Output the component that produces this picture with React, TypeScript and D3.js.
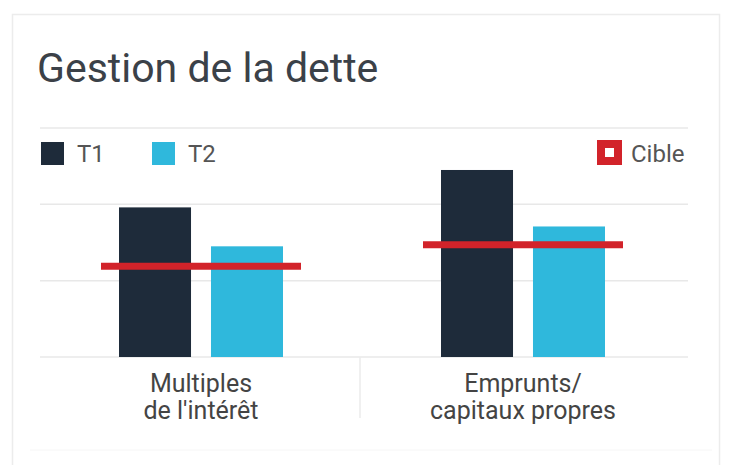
import * as d3 from 'd3'
import React from 'react'

// chart data
const categories = ['Multiples', 'Emprunts']
const categoryLines = [['Multiples', "de l'intérêt"], ['Emprunts/', 'capitaux propres']]
const series = ['T1', 'T2']
const t1Values = [1.96, 2.45]
const t2Values = [1.45, 1.71]
const targetValues = [1.19, 1.47]
const gridTicks = [0, 1, 2, 3]

const colors = d3.scaleOrdinal<string, string>().domain(series).range(['#1e2b3a', '#2fb8dc'])
const RED = '#d2232a'
const FONT = 'Roboto, "Noto Sans", sans-serif'

export default function App() {
    React.useEffect(() => {
        document.body.style.margin = '0'
    }, [])

    const width = 730, height = 465
    const y = d3.scaleLinear().domain([0, 3]).range([357, 128])
    const x0 = d3.scaleBand().domain(categories).range([40, 684])
    const x1 = d3.scaleBand().domain(series).range([-82, 82]).paddingInner(0.217)
    const valuesBySeries: Record<string, number[]> = { T1: t1Values, T2: t2Values }

    return (
        <svg width={width} height={height} style={{ display: 'block', background: '#fff' }}>
            {/* card */}
            <rect x={12.5} y={14.5} width={707} height={470} fill="#fff" stroke="#ececec" strokeWidth={1.5} />
            <line x1={30} x2={712} y1={450} y2={450} stroke="#f6f6f6" strokeWidth={1} />
            <text x={37} y={82} fontFamily={FONT} fontSize={41} fill="#3b4148">Gestion de la dette</text>

            {/* grid */}
            {gridTicks.map(t => (
                <line key={t} x1={40} x2={688} y1={y(t)} y2={y(t)} stroke="#e8e8e8" strokeWidth={1.5} />
            ))}
            <line x1={x0(categories[1])! - 2} x2={x0(categories[1])! - 2} y1={y(0)} y2={418} stroke="#ebebeb" strokeWidth={1.5} />

            {/* legend */}
            {series.map((s, i) => {
                const lx = [41, 152][i]
                return (
                    <g key={s}>
                        <rect x={lx} y={142} width={23} height={23} fill={colors(s)} />
                        <text x={lx + 36} y={162} fontFamily={FONT} fontSize={24} fill="#555">{s}</text>
                    </g>
                )
            })}
            <rect x={601} y={144} width={17} height={17} fill="#fff" stroke={RED} strokeWidth={8} />
            <text x={631} y={162} fontFamily={FONT} fontSize={24} fill="#555">Cible</text>

            {/* bars */}
            {categories.map((c, ci) => {
                const cx = x0(c)! + x0.bandwidth() / 2
                return (
                    <g key={c}>
                        {series.map(s => {
                            const v = valuesBySeries[s][ci]
                            return (
                                <rect key={s} x={cx + x1(s)!} y={y(v)} width={x1.bandwidth()} height={y(0) - y(v)} fill={colors(s)} />
                            )
                        })}
                        <line x1={cx - 100} x2={cx + 100} y1={y(targetValues[ci])} y2={y(targetValues[ci])} stroke={RED} strokeWidth={7} />
                        {categoryLines[ci].map((t, li) => (
                            <text key={li} x={cx} y={392 + li * 27} textAnchor="middle" fontFamily={FONT} fontSize={25} fill="#444">{t}</text>
                        ))}
                    </g>
                )
            })}
        </svg>
    )
}
